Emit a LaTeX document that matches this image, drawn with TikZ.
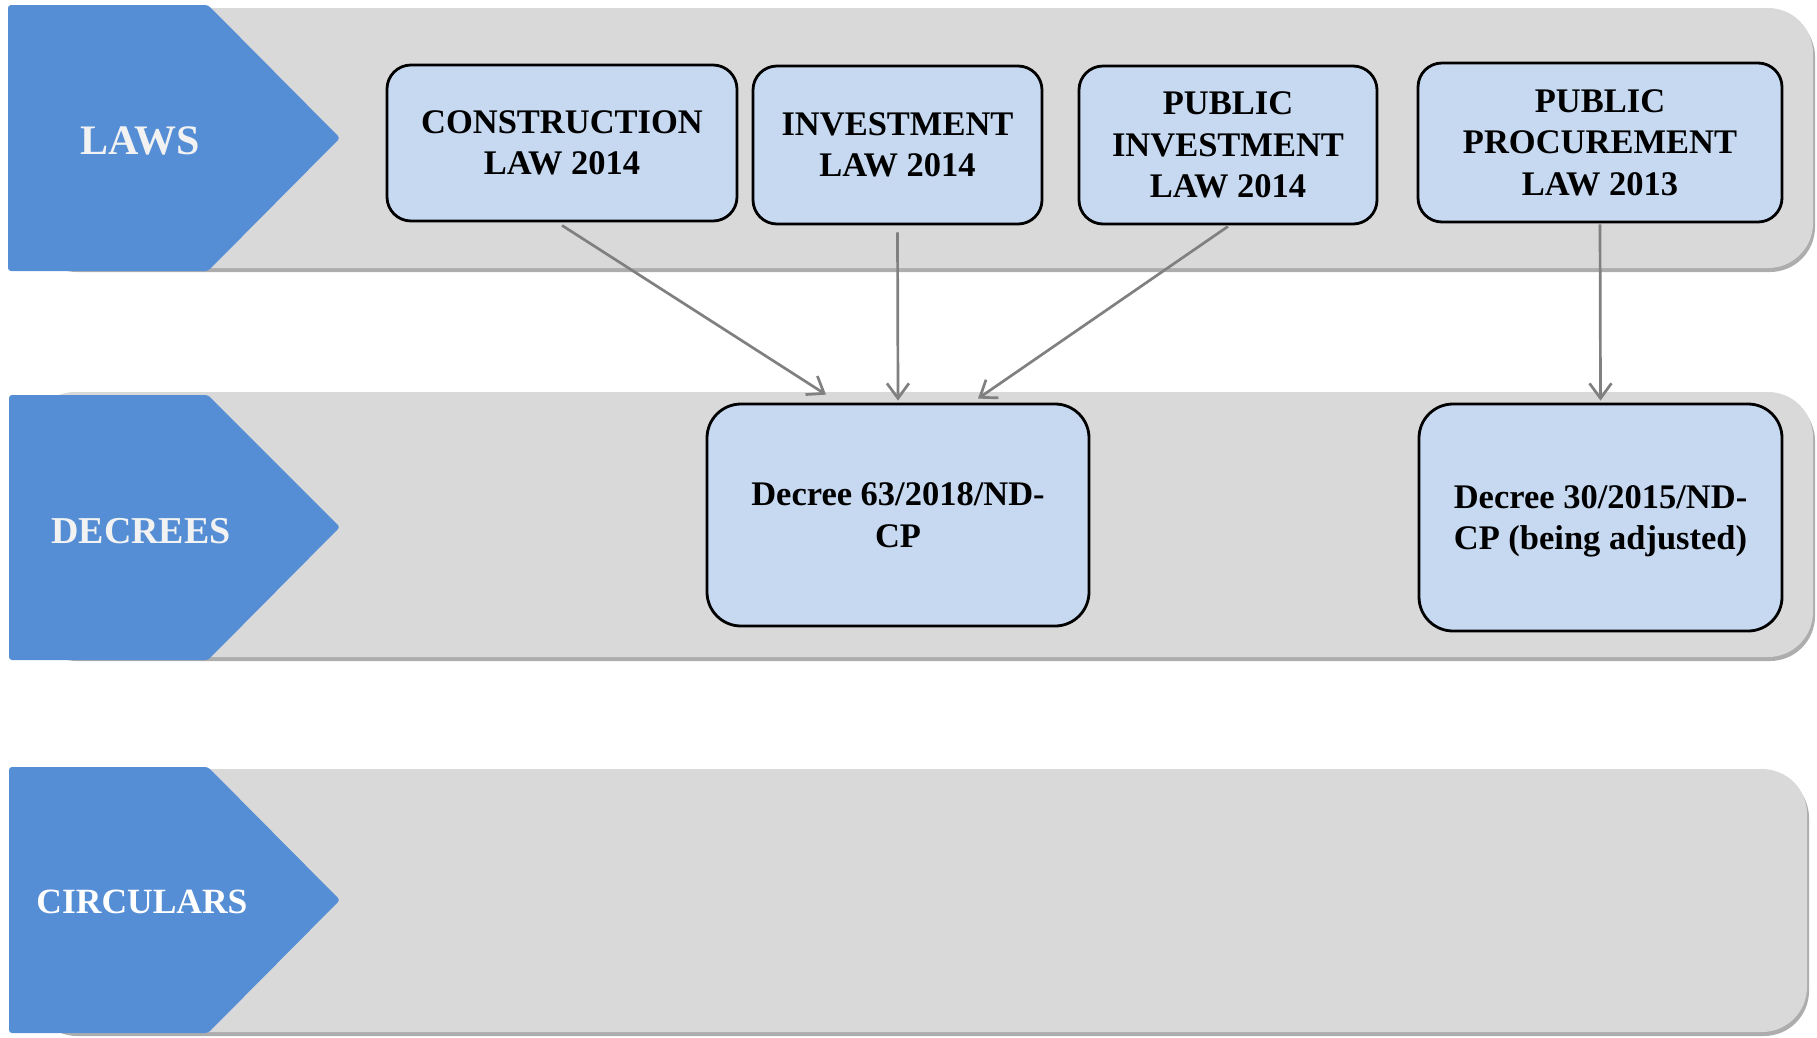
\documentclass[tikz,border=0pt]{standalone}
\usepackage{fontspec}
\setmainfont{Liberation Serif}
\usetikzlibrary{arrows.meta}
\definecolor{chev}{HTML}{558ED5}
\definecolor{band}{HTML}{D9D9D9}
\definecolor{bshadow}{HTML}{ADADAD}
\definecolor{boxfill}{HTML}{C6D9F1}
\definecolor{arrgray}{HTML}{808080}
\definecolor{labtxt}{HTML}{F2F2F2}
\begin{document}
\begin{tikzpicture}[x=1pt,y=-1pt,
  bandshadow/.style={fill=bshadow, rounded corners=45pt},
  bandfill/.style={fill=band, rounded corners=45pt},
  chevron/.style={fill=chev, rounded corners=3pt},
  chevlabel/.style={text=labtxt, anchor=base, font=\bfseries},
  lawbox/.style={draw=black, line width=2.8pt, fill=boxfill, rounded corners=24pt,
    align=center, inner sep=0pt, font=\fontsize{34.5}{41.5}\selectfont\bfseries},
  decbox/.style={lawbox, rounded corners=34pt},
  arr/.style={draw=arrgray, line width=2.7pt, -{Straight Barb[length=15pt,width=22pt]}}]
\useasboundingbox (0,0) rectangle (1817,1037);
% bands
\fill[bandshadow] (32,12) rectangle (1815,272);
\fill[bandfill] (30,8) rectangle (1813,268);
\fill[bandshadow] (32,396) rectangle (1815,661);
\fill[bandfill] (30,392) rectangle (1813,657);
\fill[bandshadow] (32,773) rectangle (1809,1036);
\fill[bandfill] (30,769) rectangle (1807,1032);
% chevrons
\fill[chevron] (8,5) -- (208,5) -- (340,138) -- (208,271) -- (8,271) -- cycle;
\fill[chevron] (9,395) -- (208,395) -- (340,527) -- (208,660) -- (9,660) -- cycle;
\fill[chevron] (9,767) -- (208,767) -- (340,900) -- (208,1033) -- (9,1033) -- cycle;
\node[chevlabel, font=\fontsize{42}{48}\selectfont\bfseries] (laws) at (140,154) {LAWS};
\node[chevlabel, font=\fontsize{38}{44}\selectfont\bfseries] (decrees) at (141,543) {DECREES};
\node[chevlabel, font=\fontsize{35.5}{42}\selectfont\bfseries, text=white] (circ) at (142,913) {CIRCULARS};
% law boxes
\node[lawbox, minimum width=350pt, minimum height=156pt] (c1) at (562,143) {CONSTRUCTION\\LAW 2014};
\node[lawbox, minimum width=289pt, minimum height=158pt] (c2) at (897.5,145) {INVESTMENT\\LAW 2014};
\node[lawbox, minimum width=298pt, minimum height=158pt] (c3) at (1228,145) {PUBLIC\\INVESTMENT\\LAW 2014};
\node[lawbox, minimum width=364pt, minimum height=159pt] (c4) at (1600,142.5) {PUBLIC\\PROCUREMENT\\LAW 2013};
% decree boxes
\node[decbox, minimum width=382pt, minimum height=222pt] (d1) at (898,515) {Decree 63/2018/ND-\\CP};
\node[decbox, minimum width=363pt, minimum height=227pt, text depth=0pt] (d2) at (1600.5,517.5) {Decree 30/2015/ND-\\CP (being adjusted)};
% arrows
\draw[arr] ([yshift=-3pt]c1.south) -- ([xshift=-72pt,yshift=8pt]d1.north);
\draw[arr] ([yshift=-7pt]c2.south) -- ([yshift=2pt]d1.north);
\draw[arr] ([yshift=-1pt]c3.south) -- ([xshift=80pt,yshift=4pt]d1.north);
\draw[arr] ([yshift=-1pt]c4.south) -- ([yshift=2pt]d2.north);
\end{tikzpicture}
\end{document}
